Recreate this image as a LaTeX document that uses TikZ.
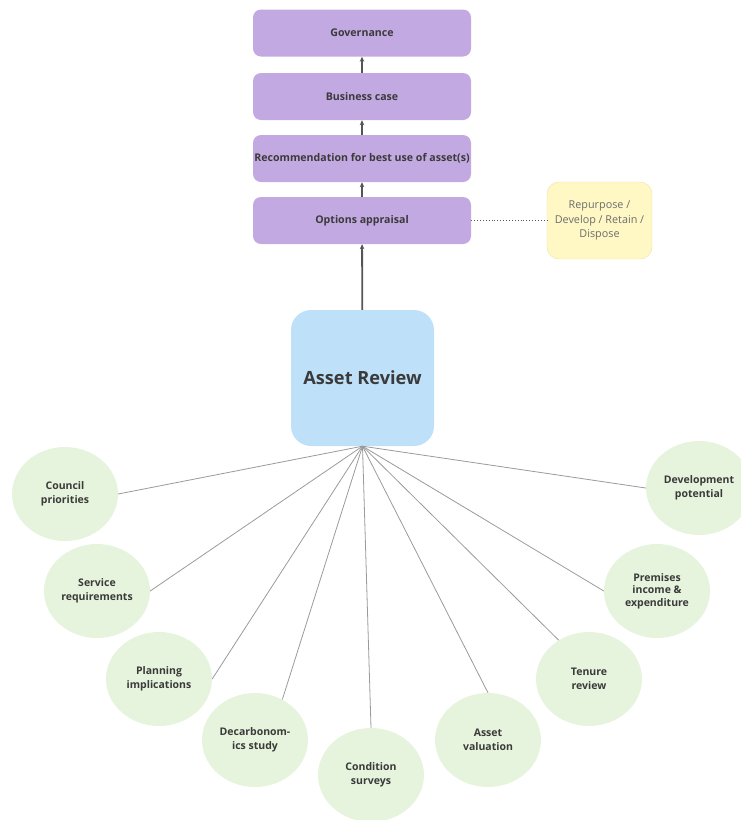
\documentclass[tikz,border=0pt]{standalone}
\usepackage{fontspec}
\setmainfont{Open Sans}
\usetikzlibrary{shapes.geometric,arrows.meta}
\definecolor{stagepurple}{HTML}{C3A9E1}
\definecolor{reviewblue}{HTML}{BEE1F9}
\definecolor{factorgreen}{HTML}{E7F4DD}
\definecolor{notefill}{HTML}{FFF8C4}
\definecolor{noteline}{HTML}{EAE2A8}
\definecolor{textdark}{HTML}{3A3A3A}
\definecolor{spokegray}{HTML}{9A9A9A}
\definecolor{arrowgray}{HTML}{555555}
\tikzset{stage/.style={rectangle, rounded corners=8pt, fill=stagepurple, minimum width=218pt, minimum height=47pt, inner sep=0pt, text=textdark, font=\bfseries\fontsize{10.6}{12}\selectfont}}
\tikzset{review/.style={rectangle, rounded corners=20pt, fill=reviewblue, minimum width=143pt, minimum height=136pt, text=textdark, font=\bfseries\fontsize{18.2}{21}\selectfont}}
\tikzset{factor/.style={ellipse, fill=factorgreen, minimum width=106pt, minimum height=94pt, inner sep=0pt, align=center, text=textdark, font=\bfseries\fontsize{10.5}{14.5}\selectfont}}
\tikzset{notebox/.style={rectangle, rounded corners=12pt, fill=notefill, draw=noteline, minimum width=105pt, minimum height=77pt, align=center, text=gray!85!black, font=\fontsize{10.8}{14.5}\selectfont}}
\tikzset{spoke/.style={draw=spokegray, line width=0.8pt}}
\tikzset{stagearrow/.style={draw=arrowgray, line width=1.3pt, -{Stealth[length=5pt,width=4.5pt]}}}

\begin{document}
\begin{tikzpicture}[x=1pt,y=-1pt]
\useasboundingbox (0,0) rectangle (741,820);
\clip (0,0) rectangle (741,820);
% decision chain
\node[stage] (governance) at (362,33) {Governance};
\node[stage] (business) at (362,96.5) {Business case};
\node[stage] (recommend) at (362,158.5) {Recommendation for best use of asset(s)};
\node[stage] (options) at (362,220.5) {Options appraisal};
\node[notebox] (outcome) at (599.5,220.5) {Repurpose /\\Develop / Retain /\\Dispose};
\draw[stagearrow] (business) -- (governance);
\draw[stagearrow] (recommend) -- (business);
\draw[stagearrow] (options) -- (recommend);
\draw[arrowgray, dotted, line width=0.9pt] (options) -- (outcome);
% review hub
\node[review] (review) at (362.5,378) {Asset Review};
\draw[stagearrow, line width=1.8pt] (review) -- (options);
% inputs
\node[factor] (council) at (65,494) {Council\\priorities};
\node[factor] (service) at (97,591) {Service\\requirements};
\node[factor] (planning) at (159,679) {Planning\\implications};
\node[factor] (decarb) at (255,740) {Decarbonom-\\ics study};
\node[factor] (condition) at (371,775) {Condition\\surveys};
\node[factor] (valuation) at (488,740) {Asset\\valuation};
\node[factor] (tenure) at (589,679) {Tenure\\review};
\node[factor] (premises) at (657,591) {Premises\\[-2pt]income \&\\[-2pt]expenditure};
\node[factor] (development) at (699,488) {Development\\potential};
\foreach \n/\a in {council/east, service/east, planning/east, decarb/56, condition/north, valuation/north, tenure/128, premises/west, development/west}
  \draw[spoke] (review.south) -- (\n.\a);
\end{tikzpicture}
\end{document}
